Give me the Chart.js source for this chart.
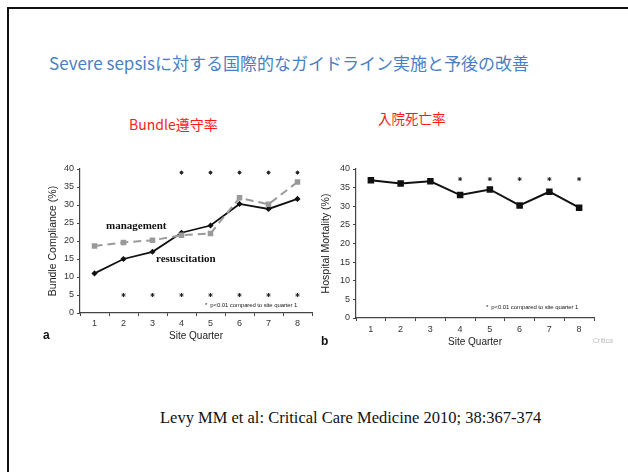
<!DOCTYPE html>
<html>
<head>
<meta charset="utf-8">
<script src="https://cdn.jsdelivr.net/npm/chart.js@4"></script>
<style>
body{margin:0;background:#fff;width:628px;height:472px;overflow:hidden;position:relative;font-family:"Liberation Sans",Arial,sans-serif}
.frame{position:absolute;left:7px;top:7px;width:640px;height:480px;border-top:2px solid #111;border-left:2px solid #111}
.t{position:absolute;white-space:nowrap;line-height:1}
canvas{position:absolute}
</style>
</head>
<body>
<div class="frame"></div>
<div class="t" id="title" style="left:49px;top:54px;font-family:'Noto Sans CJK JP';font-size:17px;color:#4b7fc3">Severe sepsisに対する国際的なガイドライン実施と予後の改善</div>
<div class="t" style="left:129px;top:117px;font-family:'Noto Sans CJK JP';font-size:14px;color:#ff1a1a">Bundle遵守率</div>
<div class="t" style="left:378px;top:112px;font-family:'Noto Sans CJK JP';font-size:13.5px;color:#ff1a1a">入院死亡率</div>

<div style="position:absolute;left:40px;top:160px;width:280px;height:190px"><canvas id="chartA"></canvas></div>
<div style="position:absolute;left:316px;top:160px;width:286px;height:195px"><canvas id="chartB"></canvas></div>

<div class="t" style="left:106px;top:220px;font-family:'Liberation Serif';font-weight:bold;font-size:11px;color:#111">management</div>
<div class="t" style="left:156px;top:253px;font-family:'Liberation Serif';font-weight:bold;font-size:11px;color:#111">resuscitation</div>
<div class="t" style="left:205px;top:302px;font-size:6px;letter-spacing:-0.1px;color:#222">*&nbsp; p&lt;0.01 compared to site quarter 1</div>
<div class="t" style="left:486px;top:304px;font-size:6px;letter-spacing:-0.1px;color:#222">*&nbsp; p&lt;0.01 compared to site quarter 1</div>
<div class="t" style="left:43px;top:329px;font-size:12px;font-weight:bold;color:#111">a</div>
<div class="t" style="left:321px;top:335px;font-size:12px;font-weight:bold;color:#111">b</div>
<div class="t" style="left:593px;top:337px;font-size:7px;color:#bbb">Critica</div>
<div class="t" style="left:160px;top:410px;font-family:'Liberation Serif';font-size:16.5px;color:#111">Levy MM et al: Critical Care Medicine 2010; 38:367-374</div>

<script>
var quarters = ['1', '2', '3', '4', '5', '6', '7', '8']
var resuscitation = [11, 15, 17, 22.3, 24.3, 30.3, 28.9, 31.7]
var management = [18.6, 19.6, 20.2, 21.6, 22.1, 32, 30.2, 36.4]
var starsTopA = [null, null, null, 39, 39, 39, 39, 39]
var starsBottomA = [null, 5, 5, 5, 5, 5, 5, 5]
var mortality = [37, 36.1, 36.7, 33, 34.5, 30.2, 33.9, 29.6]
var starsB = [null, null, null, 37.3, 37.3, 37.3, 37.3, 37.3]
var yMin = 0, yMax = 40, yStep = 5

Chart.defaults.font.family = '"Liberation Sans", Arial, sans-serif'
Chart.defaults.color = '#333'

function starSet(values){
	return {
		data: values,
		showLine: false,
		pointStyle: 'star',
		pointRadius: 2,
		pointBorderWidth: 1,
		borderColor: '#222',
		backgroundColor: '#222'
	}
}

function axes(yTitle, yWidth, xHeight, tickPad, titlePad, titleBottom){
	return {
		x: {
			offset: true,
			afterFit: function(s){ s.height = xHeight },
			grid: { offset: true, drawOnChartArea: false, drawTicks: true, tickLength: 3, color: '#444' },
			border: { color: '#444', width: 1.2 },
			ticks: { font: { size: 9 }, padding: tickPad, color: '#333' },
			title: { display: true, text: 'Site Quarter', font: { size: 10 }, color: '#222', padding: { top: 0, bottom: titleBottom } }
		},
		y: {
			min: yMin, max: yMax,
			afterFit: function(s){ s.width = yWidth },
			grid: { drawOnChartArea: false, drawTicks: true, tickLength: 3, color: '#444' },
			border: { color: '#444', width: 1.2 },
			ticks: { stepSize: yStep, font: { size: 9 }, padding: 3, color: '#333' },
			title: { display: true, text: yTitle, font: { size: 10.5 }, color: '#222', padding: { top: titlePad, bottom: 0 } }
		}
	}
}

new Chart(document.getElementById('chartA'), {
	type: 'line',
	data: {
		labels: quarters,
		datasets: [
			{ data: management, borderColor: '#9a9a9a', backgroundColor: '#9a9a9a', borderWidth: 2, borderDash: [8, 5],
			  pointStyle: 'rect', pointRadius: 2.5, tension: 0 },
			{ data: resuscitation, borderColor: '#111', backgroundColor: '#111', borderWidth: 1.8,
			  pointStyle: 'rectRot', pointRadius: 1.8, tension: 0 },
			starSet(starsTopA),
			starSet(starsBottomA)
		]
	},
	options: {
		responsive: true, maintainAspectRatio: false, animation: false,
		layout: { padding: { top: 9, right: 8, left: 0, bottom: 0 } },
		plugins: { legend: { display: false }, tooltip: { enabled: false } },
		scales: axes('Bundle Compliance (%)', 40, 37, 2, 7, 8)
	}
})

new Chart(document.getElementById('chartB'), {
	type: 'line',
	data: {
		labels: quarters,
		datasets: [
			{ data: mortality, borderColor: '#111', backgroundColor: '#111', borderWidth: 2,
			  pointStyle: 'rect', pointRadius: 3.2, tension: 0 },
			starSet(starsB)
		]
	},
	options: {
		responsive: true, maintainAspectRatio: false, animation: false,
		layout: { padding: { top: 9, right: 8, left: 0, bottom: 0 } },
		plugins: { legend: { display: false }, tooltip: { enabled: false } },
		scales: axes('Hospital Mortality (%)', 40, 37, 3, 4, 7)
	}
})
</script>
</body>
</html>
